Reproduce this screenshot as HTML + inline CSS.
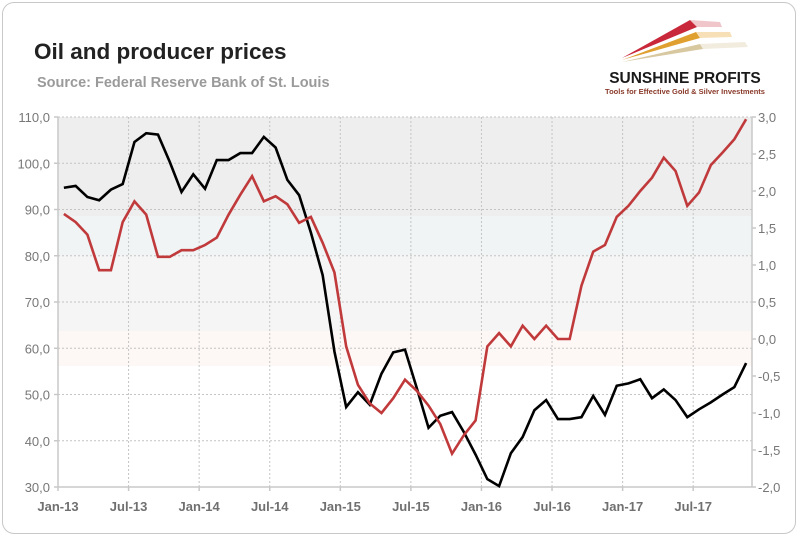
<!DOCTYPE html>
<html><head><meta charset="utf-8">
<style>
html,body{margin:0;padding:0;background:#fff;}
body{width:800px;height:538px;overflow:hidden;position:relative;font-family:"Liberation Sans",sans-serif;}
#frame{position:absolute;left:2px;top:2px;width:794px;height:532px;border:1.5px solid #c8c8c8;border-radius:12px;box-sizing:border-box;}
#title{position:absolute;left:34px;top:39px;font-size:22.5px;font-weight:bold;color:#222;}
#source{position:absolute;left:37px;top:75px;font-size:14.5px;font-weight:bold;color:#9a9a9a;}
svg{position:absolute;left:0;top:0;}
</style></head><body>
<div id="frame"></div>
<div id="title">Oil and producer prices</div>
<div id="source">Source: Federal Reserve Bank of St. Louis</div>
<svg id="chart" width="800" height="538">
  <g>
    <polygon points="622,58 690,20 697,27" fill="#c8283a"/>
    <polygon points="697,27 690,20 720,22 722,27" fill="#e8a0a8" opacity="0.6"/>
    <polygon points="622,60 696,32 700,38" fill="#e0a030"/>
    <polygon points="700,38 696,32 730,32 732,37" fill="#f2cc88" opacity="0.6"/>
    <polygon points="622,62 700,44 703,49" fill="#d8c8a0"/>
    <polygon points="703,49 700,44 745,42 748,47" fill="#ece4d0" opacity="0.7"/>
    <text x="685" y="83" text-anchor="middle" font-size="15.5" font-weight="bold" fill="#1a1a1a">SUNSHINE PROFITS</text>
    <text x="685" y="94" text-anchor="middle" font-size="7.5" font-weight="bold" fill="#8a3a2a">Tools for Effective Gold &amp; Silver Investments</text>
  </g>
</svg>
<script>
const months = ["Jan-13","Jul-13","Jan-14","Jul-14","Jan-15","Jul-15","Jan-16","Jul-16","Jan-17","Jul-17"];
const leftTicks = [30,40,50,60,70,80,90,100,110];
const rightTicks = [-2.0,-1.5,-1.0,-0.5,0.0,0.5,1.0,1.5,2.0,2.5,3.0];
const oilPrices = [94.7,95.1,92.7,92.0,94.3,95.5,104.6,106.5,106.2,100.3,93.8,97.6,94.5,100.7,100.7,102.2,102.2,105.7,103.4,96.4,93.1,85.0,75.8,59.3,47.3,50.5,47.8,54.5,59.1,59.7,51.4,42.8,45.4,46.2,41.9,37.0,31.7,30.2,37.3,40.8,46.6,48.8,44.7,44.7,45.1,49.7,45.6,51.9,52.4,53.3,49.2,51.1,48.8,45.1,46.8,48.3,50.0,51.6,56.8];
const ppiChange = [1.69,1.58,1.41,0.93,0.93,1.58,1.86,1.68,1.11,1.11,1.2,1.2,1.27,1.37,1.68,1.95,2.2,1.86,1.93,1.82,1.57,1.65,1.3,0.9,-0.1,-0.62,-0.87,-1.0,-0.8,-0.55,-0.7,-0.9,-1.15,-1.55,-1.3,-1.1,-0.1,0.08,-0.1,0.18,0.0,0.18,0.0,0.0,0.72,1.18,1.27,1.65,1.8,2.0,2.18,2.45,2.27,1.8,1.98,2.35,2.52,2.7,2.97];

const NS="http://www.w3.org/2000/svg";
const svg=document.getElementById('chart');
const X0=58,X1=752,Y0=117,Y1=487,N=59;
const step=(X1-X0)/N;
const xAt=i=>X0+(i+0.5)*step;
const yL=v=>Y1-(v-30)/80*(Y1-Y0);
const yR=v=>Y1-(v+2)/5*(Y1-Y0);
function mk(tag,attrs,parent){const e=document.createElementNS(NS,tag);for(const k in attrs)e.setAttribute(k,attrs[k]);(parent||svg).appendChild(e);return e;}

const bg=mk('g',{});


mk('rect',{x:X0,y:Y0,width:X1-X0,height:216-Y0,fill:'#eeeeee'},bg);
mk('rect',{x:X0,y:216,width:X1-X0,height:39,fill:'#f0f4f4'},bg);
mk('rect',{x:X0,y:255,width:X1-X0,height:76,fill:'#f5f5f5'},bg);
mk('rect',{x:X0,y:331,width:X1-X0,height:35,fill:'#fdf7f5'},bg);

const grid=mk('g',{stroke:'#c4c4c4','stroke-width':1,'stroke-dasharray':'2,2'});


leftTicks.forEach(v=>{ if(v>30) mk('line',{x1:X0,x2:X1,y1:yL(v),y2:yL(v)},grid);});
months.forEach((m,k)=>{ if(k>0){const x=X0+k*6*step; mk('line',{x1:x,x2:x,y1:Y0,y2:Y1},grid);} });

const ax=mk('g',{stroke:'#c8c8c8','stroke-width':1.5,fill:'none'});


mk('line',{x1:X0,x2:X0,y1:Y0,y2:Y1},ax);
mk('line',{x1:X1,x2:X1,y1:Y0,y2:Y1},ax);
mk('line',{x1:X0,x2:X1,y1:Y1,y2:Y1},ax);
leftTicks.forEach(v=>mk('line',{x1:X0-4,x2:X0,y1:yL(v),y2:yL(v)},ax));
rightTicks.forEach(v=>mk('line',{x1:X1,x2:X1+4,y1:yR(v),y2:yR(v)},ax));
months.forEach((m,k)=>{const x=X0+k*6*step; mk('line',{x1:x,x2:x,y1:Y1,y2:Y1+4},ax);});

leftTicks.forEach(v=>{
  const t=mk('text',{x:X0-8,y:yL(v)+5,'text-anchor':'end','font-size':13,fill:'#777'});
  
  
  t.textContent=v.toFixed(1).replace('.',',');
});
rightTicks.forEach(v=>{
  const t=mk('text',{x:X1+6,y:yR(v)+5,'font-size':13,fill:'#777'});
  
  
  t.textContent=v.toFixed(1).replace('.',',');
});
months.forEach((m,k)=>{
  const t=mk('text',{x:X0+k*6*step,y:Y1+24,'text-anchor':'middle','font-size':13,'font-weight':'bold',fill:'#707070'});
  
  
  t.textContent=m;
});

const pOil=mk('polyline',{points:oilPrices.map((v,i)=>xAt(i)+','+yL(v)).join(' '),fill:'none',stroke:'#000','stroke-width':2.6,'stroke-linejoin':'miter'});


const pPpi=mk('polyline',{points:ppiChange.map((v,i)=>xAt(i)+','+yR(v)).join(' '),fill:'none',stroke:'#c0393b','stroke-width':2.6,'stroke-linejoin':'miter'});


</script>
</body></html>
